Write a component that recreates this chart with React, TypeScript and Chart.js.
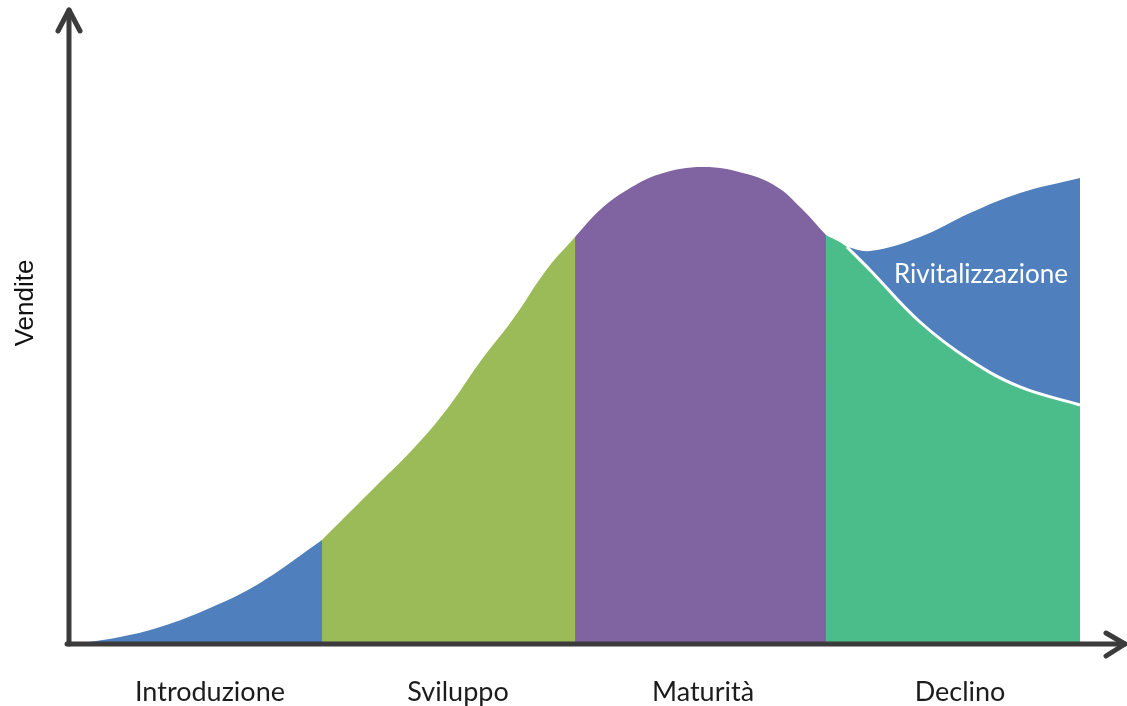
import React, { useEffect, useRef } from 'react';
import { Chart, registerables } from 'chart.js';

Chart.register(...registerables);

// Phase names shown under the x axis and where (in x units) each is centred
const phaseNames = ['Introduzione', 'Sviluppo', 'Maturità', 'Declino'];
const phaseLabelX = [13.35, 36.84, 60.04, 84.38];
const yAxisTitle = 'Vendite';
const revivalLabel = 'Rivitalizzazione';
const revivalLabelPos = [86.36, 58.2];

// Sales curve, split by phase: [time, sales]
const introduzione: number[][] = [
  [0.57, 0], [4.83, 1.1], [8.62, 2.68], [13.35, 5.68], [18.09, 9.62], [23.96, 16.4],
];
const sviluppo: number[][] = [
  [23.96, 16.4], [29.45, 25.55], [32.58, 30.76], [35.8, 37.07], [38.92, 44.48], [42.05, 51.26], [45.27, 59.15], [47.92, 64.2],
];
const maturita: number[][] = [
  [47.92, 64.2], [50.28, 68.45], [52.84, 71.6], [55.97, 74.13], [60.04, 75.24], [64.2, 74.13], [67.05, 72.08], [69.22, 68.93], [71.69, 64.5],
];
const declino: number[][] = [
  [71.69, 64.5], [73.67, 62.62], [75.85, 58.99], [80.59, 50.79], [85.32, 44.79], [90.06, 40.54], [95.74, 37.7],
];
const rivitalizzazione: number[][] = [
  [73.67, 62.62], [75.85, 61.99], [80.59, 64.2], [85.32, 67.98], [90.06, 71.14], [95.74, 73.5],
];

const COLORS = {
  intro: '#4F7FBC',
  svil: '#9BBB59',
  matur: '#8064A2',
  decl: '#4BBD8B',
  rivit: '#4F80BD',
  axis: '#3b3b3b',
};

const toPts = (arr: number[][]) => arr.map(([x, y]) => ({ x, y }));

const decorPlugin = {
  id: 'decor',
  afterDatasetsDraw(chart: any) {
    const { ctx, scales } = chart;
    const xs = scales.x;
    const ys = scales.y;
    const x0 = xs.getPixelForValue(0);
    const y0 = ys.getPixelForValue(0);
    const xEnd = xs.getPixelForValue(100);
    const yTop = ys.getPixelForValue(100);
    ctx.save();

    // Revival label
    ctx.fillStyle = '#ffffff';
    ctx.font = '26px Lato';
    ctx.textAlign = 'center';
    ctx.textBaseline = 'middle';
    ctx.fillText(revivalLabel, xs.getPixelForValue(revivalLabelPos[0]), ys.getPixelForValue(revivalLabelPos[1]));

    // Axes with arrows
    ctx.strokeStyle = COLORS.axis;
    ctx.lineWidth = 5;
    ctx.lineCap = 'round';
    ctx.lineJoin = 'round';
    ctx.beginPath();
    ctx.moveTo(x0, y0);
    ctx.lineTo(x0, yTop);
    ctx.stroke();
    ctx.beginPath();
    ctx.moveTo(x0 - 2, y0);
    ctx.lineTo(xEnd, y0);
    ctx.stroke();
    ctx.beginPath();
    ctx.moveTo(x0 - 11, yTop + 21);
    ctx.lineTo(x0, yTop);
    ctx.lineTo(x0 + 11, yTop + 21);
    ctx.stroke();
    ctx.beginPath();
    ctx.moveTo(xEnd - 19, y0 - 11);
    ctx.lineTo(xEnd, y0);
    ctx.lineTo(xEnd - 19, y0 + 12);
    ctx.stroke();

    // Phase labels
    ctx.fillStyle = '#1c1c1c';
    ctx.font = '27px Lato';
    ctx.textAlign = 'center';
    ctx.textBaseline = 'middle';
    phaseNames.forEach((name, i) => {
      ctx.fillText(name, xs.getPixelForValue(phaseLabelX[i]), y0 + 48);
    });

    // Y axis title
    ctx.save();
    ctx.translate(26, (y0 + yTop) / 2 - 24);
    ctx.rotate(-Math.PI / 2);
    ctx.font = '26px "Liberation Sans"';
    ctx.fillStyle = '#111111';
    ctx.fillText(yAxisTitle, 0, 0);
    ctx.restore();

    ctx.restore();
  },
};

export default function App() {
  const canvasRef = useRef<HTMLCanvasElement | null>(null);

  useEffect(() => {
    if (!canvasRef.current) return;
    const areaDs = (data: number[][], color: string) => ({
      data: toPts(data),
      backgroundColor: color,
      borderColor: 'transparent',
      borderWidth: 0,
      fill: 'origin',
      pointRadius: 0,
      tension: 0.4,
      order: 2,
    });
    const chart = new Chart(canvasRef.current, {
      type: 'line',
      data: {
        datasets: [
          areaDs(introduzione, COLORS.intro),
          areaDs(sviluppo, COLORS.svil),
          areaDs(maturita, COLORS.matur),
          areaDs(declino, COLORS.decl),
          {
            data: toPts(rivitalizzazione),
            backgroundColor: COLORS.rivit,
            borderColor: 'transparent',
            borderWidth: 0,
            fill: { target: 3 },
            pointRadius: 0,
            tension: 0.4,
            order: 1,
          },
          {
            data: toPts(declino.slice(1)),
            borderColor: '#ffffff',
            borderWidth: 3,
            fill: false,
            pointRadius: 0,
            tension: 0.4,
            order: 0,
          },
        ] as any,
      },
      options: {
        animation: false,
        responsive: false,
        maintainAspectRatio: false,
        layout: { padding: { left: 69, right: 2, top: 10, bottom: 62 } },
        scales: {
          x: { type: 'linear', min: 0, max: 100, display: false },
          y: { type: 'linear', min: 0, max: 100, display: false },
        },
        plugins: {
          legend: { display: false },
          tooltip: { enabled: false },
        },
      },
      plugins: [decorPlugin],
    });
    return () => chart.destroy();
  }, []);

  return (
    <div style={{ position: 'absolute', left: 0, top: 0, width: 1127, height: 706, background: '#fff' }}>
      <canvas ref={canvasRef} width={1127} height={706} />
    </div>
  );
}
